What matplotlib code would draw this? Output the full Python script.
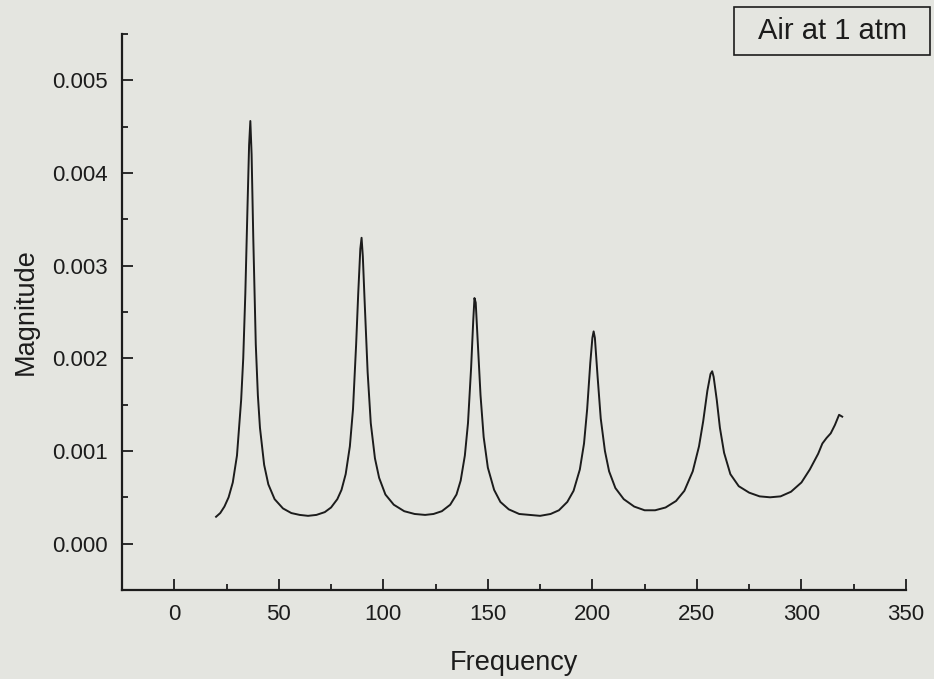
import matplotlib
matplotlib.use("Agg")
import matplotlib.pyplot as plt
from matplotlib.patches import Rectangle
from matplotlib.ticker import MultipleLocator, FormatStrFormatter

# values
freq = [20, 22, 24, 26, 28, 30, 32, 33, 34, 35, 35.8, 36.4, 37, 37.8, 39, 40, 41, 43, 45, 48,
        52, 56, 60, 64, 68, 72, 75, 78, 80, 82, 84, 85.5, 87, 88, 89, 89.6, 90.2, 91, 92.5, 94,
        96, 98, 101, 105, 110, 115, 120, 124, 128, 132, 135, 137, 139, 140.5, 142, 143, 143.6,
        144.2, 145, 146.5, 148, 150, 153, 156, 160, 165, 170, 175, 180, 184, 188, 191, 194, 196,
        197.5, 199, 200, 200.6, 201.2, 202.5, 204, 206, 208, 211, 215, 220, 225, 230, 235, 240,
        244, 248, 251, 253, 255, 256.5, 257.3, 258, 259.5, 261, 263, 266, 270, 275, 280, 285,
        290, 295, 300, 304, 308, 310, 312, 314, 316, 318, 319.5]
magnitude = [0.00029, 0.00033, 0.00040, 0.00050, 0.00066, 0.00095, 0.00155, 0.00200, 0.00270,
             0.00360, 0.00430, 0.00456, 0.00420, 0.00330, 0.00215, 0.00160, 0.00125, 0.00085,
             0.00064, 0.00048, 0.00038, 0.00033, 0.00031, 0.00030, 0.00031, 0.00034, 0.00039,
             0.00048, 0.00058, 0.00075, 0.00105, 0.00145, 0.00215, 0.00270, 0.00318, 0.00330,
             0.00310, 0.00265, 0.00185, 0.00130, 0.00092, 0.00071, 0.00053, 0.00042, 0.00035,
             0.00032, 0.00031, 0.00032, 0.00035, 0.00042, 0.00053, 0.00068, 0.00095, 0.00130,
             0.00190, 0.00240, 0.00265, 0.00260, 0.00225, 0.00160, 0.00115, 0.00082, 0.00058,
             0.00045, 0.00037, 0.00032, 0.00031, 0.00030, 0.00032, 0.00036, 0.00045, 0.00057,
             0.00080, 0.00108, 0.00145, 0.00195, 0.00222, 0.00229, 0.00222, 0.00180, 0.00135,
             0.00100, 0.00078, 0.00060, 0.00048, 0.00040, 0.00036, 0.00036, 0.00039, 0.00046,
             0.00057, 0.00078, 0.00105, 0.00132, 0.00165, 0.00183, 0.00186, 0.00180, 0.00155,
             0.00125, 0.00098, 0.00075, 0.00062, 0.00055, 0.00051, 0.00050, 0.00051, 0.00056,
             0.00066, 0.00080, 0.00097, 0.00108, 0.00114, 0.00119, 0.00128, 0.00139, 0.00137]
label_text = "Air at 1 atm"

bg = "#e4e5e0"
ink = "#1c1c1c"
plt.rcParams["font.family"] = ["Liberation Sans", "DejaVu Sans"]

fig = plt.figure(figsize=(9.34, 6.79), dpi=100)
fig.patch.set_facecolor(bg)
ax = fig.add_axes([0.1306, 0.1311, 0.8394, 0.819])
ax.set_facecolor(bg)

ax.plot(freq, magnitude, color=ink, lw=1.4)

ax.set_xlim(-25, 350)
ax.set_ylim(-0.0005, 0.0055)
ax.xaxis.set_major_locator(MultipleLocator(50))
ax.xaxis.set_minor_locator(MultipleLocator(25))
ax.yaxis.set_major_locator(MultipleLocator(0.001))
ax.yaxis.set_minor_locator(MultipleLocator(0.0005))
ax.yaxis.set_major_formatter(FormatStrFormatter("%.3f"))

for side in ("top", "right"):
    ax.spines[side].set_visible(False)
for side in ("left", "bottom"):
    ax.spines[side].set_linewidth(1.6)
    ax.spines[side].set_color(ink)

ax.tick_params(which="major", direction="in", length=8, width=1.3, color=ink,
               labelsize=16, labelcolor=ink, pad=10)
ax.tick_params(which="minor", direction="in", length=4.5, width=1.3, color=ink)

ax.set_xlabel("Frequency", fontsize=19.5, color=ink, labelpad=18)
ax.set_ylabel("Magnitude", fontsize=19.5, color=ink, labelpad=10)

# legend-style label box in the top right corner
fig.patches.append(Rectangle((0.7859, 0.919), 0.2099, 0.0707, transform=fig.transFigure,
                             facecolor=bg, edgecolor=ink, linewidth=1.2))
fig.text(0.8908, 0.9543, label_text, fontsize=21, color=ink, ha="center", va="center")

fig.savefig("out.png", dpi=100, facecolor=bg)
